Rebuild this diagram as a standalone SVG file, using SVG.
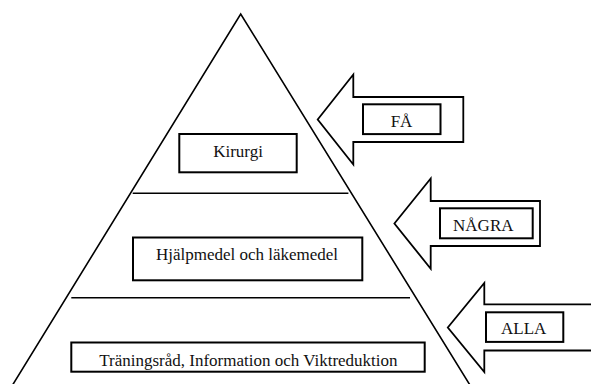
<svg xmlns="http://www.w3.org/2000/svg" width="591" height="384" viewBox="0 0 591 384">
<style>
  .edge { fill: none; stroke: #000; stroke-width: 1.6; }
  .box { fill: #fff; stroke: #000; stroke-width: 2; }
  .arrow { fill: #fff; stroke: #000; stroke-width: 1.8; stroke-linejoin: miter; }
  .lbl { font-family: "Liberation Serif", "Times New Roman", serif; font-size: 17px; fill: #111; text-anchor: middle; }
</style>
<rect width="591" height="384" fill="#fff"/>
<g id="pyramid">
  <polyline class="edge" points="9.5,390 240.7,14 473,390"/>
</g>
<g id="connectors">
  <line class="edge" x1="132.7" y1="193.3" x2="348.4" y2="193.3"/>
  <line class="edge" x1="71.3" y1="297.7" x2="410" y2="297.7"/>
</g>
<g id="kirurgi">
  <rect class="box" x="179.3" y="134" width="117.4" height="38.3"/>
  <text class="lbl" x="238" y="156.7">Kirurgi</text>
</g>
<g id="hjalpmedel">
  <rect class="box" x="133" y="237.5" width="229.3" height="42.8"/>
  <text class="lbl" x="247" y="260">Hjälpmedel och läkemedel</text>
</g>
<g id="traningsrad">
  <rect class="box" x="71.3" y="342.5" width="353.4" height="29.2"/>
  <text class="lbl" x="248.4" y="365.7">Träningsråd, Information och Viktreduktion</text>
</g>
<g id="arrow-fa">
  <polygon class="arrow" points="317.7,119.5 353.3,74.5 353.3,97 463.3,97 463.3,142 353.3,142 353.3,164.5"/>
  <rect class="box" x="363" y="104.3" width="77.5" height="29.8"/>
  <text class="lbl" x="401.5" y="126.7">FÅ</text>
</g>
<g id="arrow-nagra">
  <polygon class="arrow" points="394.4,223.5 430.7,178.5 430.7,201 540,201 540,246 430.7,246 430.7,268.7"/>
  <rect class="box" x="440" y="208.3" width="92.7" height="30"/>
  <text class="lbl" x="483.3" y="231">NÅGRA</text>
</g>
<g id="arrow-alla">
  <polygon class="arrow" points="447.8,327.5 484.3,283 484.3,304.3 600,304.3 600,350.5 484.3,350.5 484.3,372"/>
  <rect class="box" x="486" y="312.3" width="77.3" height="29.6"/>
  <text class="lbl" x="523.7" y="334">ALLA</text>
</g>
</svg>
